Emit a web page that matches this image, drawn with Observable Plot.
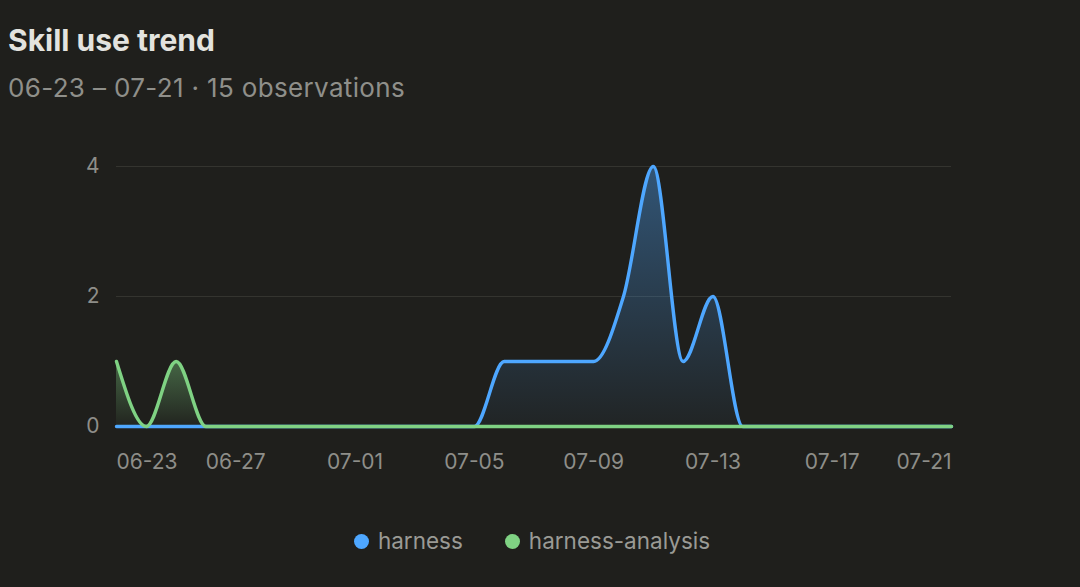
<!DOCTYPE html>
<html>
<head>
<meta charset="utf-8">
<script src="https://cdn.jsdelivr.net/npm/d3@7"></script>
<script src="https://cdn.jsdelivr.net/npm/@observablehq/plot@0.6"></script>
<style>
  html, body { margin: 0; padding: 0; background: #1f1f1c; }
  body { width: 1080px; height: 587px; overflow: hidden; position: relative; font-family: Inter, "Open Sans", sans-serif; }
  #title { position: absolute; left: 8px; top: 25px; font-size: 30px; line-height: 30px; font-weight: 700; color: #e3e3df; }
  #subtitle { position: absolute; left: 8px; top: 75px; font-size: 26px; line-height: 26px; letter-spacing: 0.35px; color: #8f8f8a; }
  #chart { position: absolute; left: 0; top: 120px; }
  #legend { position: absolute; left: 0; width: 1064px; top: 528px; display: flex; justify-content: center; gap: 42px; font-size: 22.5px; line-height: 26px; color: #9a9a95; }
  #legend .item { display: flex; align-items: center; gap: 9px; }
  #legend .dot { width: 15px; height: 15px; border-radius: 50%; display: inline-block; }
</style>
</head>
<body>
<div id="title">Skill use trend</div>
<div id="subtitle">06-23 – 07-21 · 15 observations</div>
<div id="chart"></div>
<div id="legend"></div>
<script>
// ---- Data ----
const dates = [
  "2025-06-23","2025-06-24","2025-06-25","2025-06-26","2025-06-27","2025-06-28","2025-06-29","2025-06-30",
  "2025-07-01","2025-07-02","2025-07-03","2025-07-04","2025-07-05","2025-07-06","2025-07-07","2025-07-08",
  "2025-07-09","2025-07-10","2025-07-11","2025-07-12","2025-07-13","2025-07-14","2025-07-15","2025-07-16",
  "2025-07-17","2025-07-18","2025-07-19","2025-07-20","2025-07-21"
];
const harness = [0,0,0,0,0,0,0,0, 0,0,0,0,0,1,1,1, 1,2,4,1,2,0,0,0, 0,0,0,0,0];
const harnessAnalysis = [1,0,1,0,0,0,0,0, 0,0,0,0,0,0,0,0, 0,0,0,0,0,0,0,0, 0,0,0,0,0];
const seriesNames = ["harness", "harness-analysis"];
const seriesColors = ["#4ea7ff", "#7fd283"];
const xTickDates = ["2025-06-23","2025-06-27","2025-07-01","2025-07-05","2025-07-09","2025-07-13","2025-07-17","2025-07-21"];
const xTickLabels = ["06-23","06-27","07-01","07-05","07-09","07-13","07-17","07-21"];
const yTicks = [0, 2, 4];

// ---- Build ----
const parse = s => new Date(s + "T00:00:00Z");
const rows = dates.map((d, i) => ({date: parse(d), harness: harness[i], analysis: harnessAnalysis[i]}));
const xTicks = xTickDates.map((d, i) => ({date: parse(d), label: xTickLabels[i]}));

const defs = () => {
  const g = d3.create("svg:defs");
  const mk = (id, color, top, bottom) => {
    const lg = g.append("linearGradient").attr("id", id).attr("x1", 0).attr("y1", 0).attr("x2", 0).attr("y2", 1);
    lg.append("stop").attr("offset", "0%").attr("stop-color", color).attr("stop-opacity", top);
    lg.append("stop").attr("offset", "100%").attr("stop-color", color).attr("stop-opacity", bottom);
  };
  mk("gBlue", seriesColors[0], 0.4, 0.04);
  mk("gGreen", seriesColors[1], 0.4, 0.03);
  return g.node();
};

const tickFill = "#8e8e89";
const plot = Plot.plot({
  width: 1080,
  height: 360,
  marginLeft: 116,
  marginRight: 129,
  marginTop: 46,
  marginBottom: 54,
  style: {background: "transparent", color: tickFill, fontSize: "21px", fontFamily: "Inter, 'Open Sans', sans-serif"},
  x: {type: "utc", domain: [rows[0].date, rows[rows.length - 1].date], axis: null},
  y: {domain: [0, 4], axis: null},
  marks: [
    defs,
    Plot.ruleY([2, 4], {stroke: "#34342f", strokeWidth: 1.2}),
    Plot.areaY(rows, {x: "date", y: "harness", fill: "url(#gBlue)", curve: "monotone-x"}),
    Plot.lineY(rows, {x: "date", y: "harness", stroke: seriesColors[0], strokeWidth: 3.4, curve: "monotone-x"}),
    Plot.areaY(rows, {x: "date", y: "analysis", fill: "url(#gGreen)", curve: "monotone-x"}),
    Plot.lineY(rows, {x: "date", y: "analysis", stroke: seriesColors[1], strokeWidth: 3.4, curve: "monotone-x"}),
    Plot.text(xTicks.slice(0, 1), {x: "date", text: "label", frameAnchor: "bottom", dy: 42, textAnchor: "start", fill: tickFill}),
    Plot.text(xTicks.slice(1, -1), {x: "date", text: "label", frameAnchor: "bottom", dy: 42, textAnchor: "middle", fill: tickFill}),
    Plot.text(xTicks.slice(-1), {x: "date", text: "label", frameAnchor: "bottom", dy: 42, textAnchor: "end", fill: tickFill}),
    Plot.text(yTicks, {y: d => d, text: d => String(d), frameAnchor: "left", dx: -17, textAnchor: "end", fill: tickFill})
  ]
});
document.getElementById("chart").appendChild(plot);

const legend = document.getElementById("legend");
seriesNames.forEach((name, i) => {
  const item = document.createElement("div");
  item.className = "item";
  const dot = document.createElement("span");
  dot.className = "dot";
  dot.style.background = seriesColors[i];
  const label = document.createElement("span");
  label.textContent = name;
  item.appendChild(dot);
  item.appendChild(label);
  legend.appendChild(item);
});
</script>
</body>
</html>
